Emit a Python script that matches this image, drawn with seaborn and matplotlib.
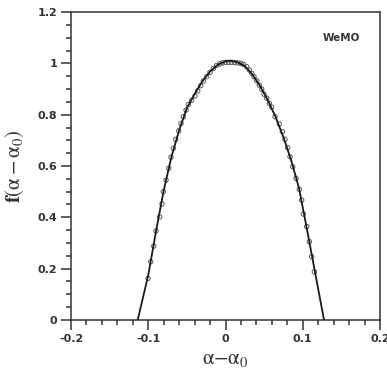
import numpy as np
import pandas as pd
import seaborn as sns
import matplotlib.pyplot as plt
from matplotlib.ticker import MultipleLocator

# fitted curve
line_x = [-0.1137, -0.100, -0.090, -0.080, -0.070, -0.060, -0.050, -0.040, -0.030, -0.020,
          -0.010, 0.000, 0.006, 0.015, 0.025, 0.035, 0.045, 0.055, 0.065, 0.075,
          0.085, 0.095, 0.105, 0.115, 0.1275]
line_y = [0.0, 0.175, 0.345, 0.505, 0.636, 0.740, 0.826, 0.880, 0.930, 0.968,
          0.995, 1.008, 1.010, 1.005, 0.990, 0.956, 0.910, 0.855, 0.790, 0.712,
          0.622, 0.515, 0.360, 0.200, 0.0]

# measured points
pts_x = [-0.1003, -0.0968, -0.0929, -0.0900, -0.0852, -0.0822, -0.0805, -0.0770, -0.0735,
         -0.0706, -0.0676, -0.0645, -0.0606, -0.0576, -0.0546, -0.0511, -0.0482, -0.0438,
         -0.0395, -0.0360, -0.0321, -0.0287, -0.0243, -0.0201, -0.0158, -0.0114,
         -0.0075, -0.0040, 0.0000, 0.0040, 0.0080, 0.0120, 0.0160, 0.0200,
         0.0230, 0.0274, 0.0308, 0.0340, 0.0369, 0.0404, 0.0438, 0.0469, 0.0498,
         0.0533, 0.0567, 0.0598, 0.0641, 0.0696, 0.0735, 0.0770, 0.0805, 0.0835,
         0.0870, 0.0913, 0.0955, 0.0986, 0.1007, 0.1051, 0.1085, 0.1115, 0.1150]
pts_y = [0.162, 0.227, 0.288, 0.347, 0.402, 0.452, 0.500, 0.545, 0.591,
         0.634, 0.669, 0.704, 0.737, 0.766, 0.792, 0.818, 0.840, 0.856,
         0.873, 0.893, 0.913, 0.931, 0.948, 0.965, 0.980, 0.992,
         0.998, 1.002, 1.004, 1.004, 1.004, 1.003, 1.002, 1.000,
         0.996, 0.987, 0.974, 0.961, 0.948, 0.932, 0.915, 0.899, 0.880,
         0.864, 0.844, 0.829, 0.792, 0.764, 0.734, 0.704, 0.671, 0.636,
         0.597, 0.552, 0.509, 0.467, 0.413, 0.364, 0.305, 0.247, 0.188]

x_ticks = [-0.2, -0.1, 0.0, 0.1, 0.2]
x_labels = ["-0.2", "-0.1", "0", "0.1", "0.2"]
y_ticks = [0, 0.2, 0.4, 0.6, 0.8, 1.0, 1.2]
y_labels = ["0", "0.2", "0.4", "0.6", "0.8", "1", "1.2"]

sns.set_style("ticks")
plt.rcParams['mathtext.fontset'] = 'stix'

fig = plt.figure(figsize=(3.87, 3.79), dpi=100)
ax = fig.add_axes([0.1835, 0.1557, 0.7985, 0.8126])

sns.scatterplot(x=pts_x, y=pts_y, ax=ax, marker="o", s=10, facecolor="none",
                edgecolor="#5a5a5a", linewidth=0.7, zorder=2)
sns.lineplot(x=line_x, y=line_y, ax=ax, color="#1a1a1a", linewidth=1.3, sort=False, zorder=3)

ax.set_xlim(-0.2, 0.2)
ax.set_ylim(0, 1.2)
ax.set_xticks(x_ticks)
ax.set_xticklabels(x_labels)
ax.set_yticks(y_ticks)
ax.set_yticklabels(y_labels)
ax.xaxis.set_minor_locator(MultipleLocator(0.02))
ax.yaxis.set_minor_locator(MultipleLocator(0.05))

for s in ax.spines.values():
    s.set_linewidth(1.1)
    s.set_color("#333333")
ax.tick_params(which="major", direction="out", length=7, width=1.1, color="#333333",
               labelsize=8, labelcolor="#333333", pad=3)
ax.tick_params(which="minor", direction="out", length=3.5, width=1.1, color="#333333")
for lab in ax.get_xticklabels() + ax.get_yticklabels():
    lab.set_fontweight("bold")

ax.set_xlabel(r"$\mathrm{\alpha}$$-$$\mathrm{\alpha_0}$", fontsize=15, color="#333333", labelpad=4)
ax.set_ylabel(r"$\mathbf{f}(\mathrm{\alpha}-\mathrm{\alpha_0})$", fontsize=15, color="#333333", labelpad=8)

ax.text(0.1495, 1.099, "WeMO", fontsize=7.5, fontweight="bold", color="#333333",
        ha="center", va="center")

fig.savefig("out.png", dpi=100)
